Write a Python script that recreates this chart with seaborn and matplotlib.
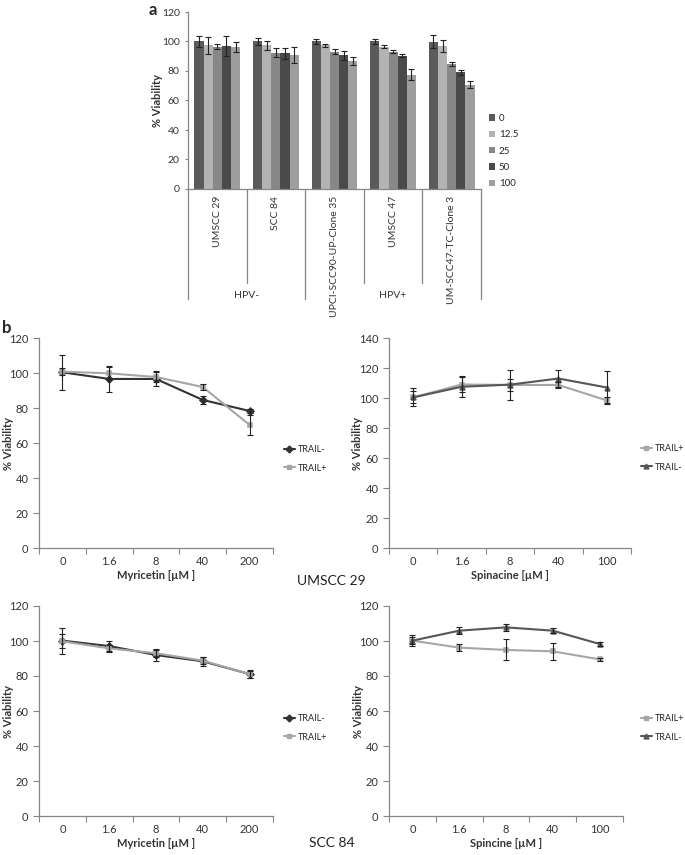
import numpy as np
import pandas as pd
import seaborn as sns
import matplotlib.pyplot as plt
from matplotlib.lines import Line2D
from matplotlib.patches import Patch
import matplotlib.transforms as mtransforms

sns.set_style("ticks")
plt.rcParams['font.family'] = ['Lato', 'DejaVu Sans']

# ---- panel a data ----
cell_lines = ["UMSCC 29", "SCC 84", "UPCI-SCC90-UP-Clone 35", "UMSCC 47", "UM-SCC47-TC-Clone 3"]
doses = ["0", "12.5", "25", "50", "100"]
v0 = [100, 100, 100, 100, 99.8]
v12 = [97.3, 97.3, 97.3, 96.6, 97.0]
v25 = [96.4, 92.5, 93.2, 93.2, 84.9]
v50 = [97.0, 91.9, 90.7, 90.5, 79.0]
v100 = [96.4, 91.0, 86.7, 77.6, 70.7]
e0 = [3.8, 2.7, 2.0, 2.0, 4.5]
e12 = [5.6, 2.8, 0.7, 0.8, 4.0]
e25 = [1.7, 3.0, 1.8, 1.2, 1.5]
e50 = [6.8, 3.5, 3.0, 0.8, 2.0]
e100 = [3.5, 5.5, 2.5, 4.0, 2.5]
bar_colors = ["#5b5b5b", "#b3b3b3", "#878787", "#4a4a4a", "#9e9e9e"]

# ---- panel b data ----
conc_myr = ["0", "1.6", "8", "40", "200"]
conc_spin = ["0", "1.6", "8", "40", "100"]

u29_myr_minus = [100.4, 96.6, 96.6, 84.6, 78.3]
u29_myr_minus_err = [10, 7.5, 4.3, 2.3, 1.0]
u29_myr_plus = [100.8, 99.8, 97.7, 92.0, 70.3]
u29_myr_plus_err = [2.0, 3.5, 3.0, 1.7, 5.7]

u29_spin_plus = [100.4, 109.0, 108.7, 108.7, 98.4]
u29_spin_plus_err = [4.0, 5.0, 4.0, 2.0, 2.0]
u29_spin_minus = [100.4, 107.5, 108.9, 113.0, 107.0]
u29_spin_minus_err = [6.0, 7.0, 10.0, 5.5, 11.0]

s84_myr_minus = [100.2, 97.1, 92.0, 88.4, 81.1]
s84_myr_minus_err = [4.0, 3.0, 3.5, 2.5, 2.5]
s84_myr_plus = [99.8, 95.8, 93.0, 88.8, 81.1]
s84_myr_plus_err = [7.5, 2.0, 2.0, 2.0, 2.0]

s84_spin_plus = [100.2, 96.2, 94.9, 94.1, 89.5]
s84_spin_plus_err = [3.0, 2.0, 6.0, 5.0, 1.0]
s84_spin_minus = [100.2, 105.9, 107.8, 105.9, 98.3]
s84_spin_minus_err = [2.0, 2.0, 2.0, 1.5, 1.0]

W, H = 685, 855
fig = plt.figure(figsize=(W / 100, H / 100), dpi=100)


def box(l, t, r, b):
    return [l / W, 1 - b / H, (r - l) / W, (b - t) / H]


AXC = "#868686"
TXT = "#333333"


def style_axes(ax):
    sns.despine(ax=ax)
    for s in ["left", "bottom"]:
        ax.spines[s].set_color(AXC)
        ax.spines[s].set_linewidth(0.9)
    ax.tick_params(colors=AXC, labelcolor=TXT, labelsize=8)


# ================= panel a =================
ax_a = fig.add_axes(box(188, 12, 481, 189))
bar_df = pd.DataFrame({
    "line": cell_lines * 5,
    "dose": sum([[d] * 5 for d in doses], []),
    "viability": v0 + v12 + v25 + v50 + v100,
})
sns.barplot(data=bar_df, x="line", y="viability", hue="dose", order=cell_lines,
            hue_order=doses, palette=bar_colors, width=0.78, errorbar=None,
            legend=False, ax=ax_a, linewidth=0)
for cont, err in zip(ax_a.containers, [e0, e12, e25, e50, e100]):
    xs = [p.get_x() + p.get_width() / 2 for p in cont]
    ys = [p.get_height() for p in cont]
    ax_a.errorbar(xs, ys, yerr=err, fmt="none", ecolor="#222222",
                  elinewidth=0.8, capsize=2, capthick=0.8)
ax_a.set_ylim(0, 120)
ax_a.set_yticks(range(0, 121, 20))
ax_a.set_xlim(-0.5, 4.5)
style_axes(ax_a)
ax_a.tick_params(axis="y", length=2, labelsize=7.5, pad=4)
ax_a.tick_params(axis="x", length=0, labelsize=7.5, pad=5)
ax_a.set_xticks(range(5), labels=cell_lines, rotation=90, va="top")
ax_a.set_xlabel("")
ax_a.set_ylabel("% Viability", fontweight="bold", fontsize=8, color=TXT)
ax_a.yaxis.set_label_coords(-0.085, 0.5)

trans = mtransforms.blended_transform_factory(ax_a.transData, ax_a.transAxes)
for i in range(6):
    low = -0.621 if i in (0, 2, 5) else -0.531
    ax_a.plot([i - 0.5, i - 0.5], [0, low], color=AXC, lw=0.9,
              transform=trans, clip_on=False)
ax_a.text(0.5, -0.60, "HPV-", transform=trans, ha="center", va="center",
          fontsize=7.5, color=TXT)
ax_a.text(3.0, -0.60, "HPV+", transform=trans, ha="center", va="center",
          fontsize=7.5, color=TXT)

leg_handles = [Patch(facecolor=c, edgecolor="none") for c in bar_colors]
ax_a.legend(leg_handles, doses, loc="upper left",
            bbox_to_anchor=(489 / W, 1 - 114 / H), bbox_transform=fig.transFigure,
            frameon=False, fontsize=7, handlelength=0.6, handleheight=0.6,
            handletextpad=0.4, labelspacing=0.75, borderaxespad=0, borderpad=0)

fig.text(153 / W, 1 - 10 / H, "a", fontweight="bold", fontsize=12,
         ha="center", va="center")
fig.text(7 / W, 1 - 328 / H, "b", fontweight="bold", fontsize=12,
         ha="center", va="center")


# ================= panel b =================
def line_panel(rect, conc, series, ymax, xlabel, leg_xy):
    ax = fig.add_axes(box(*rect))
    labels = [s[0] for s in series]
    df = pd.DataFrame({
        "conc": conc * len(series),
        "viab": sum([s[1] for s in series], []),
        "trail": sum([[s[0]] * len(conc) for s in series], []),
    })
    sns.pointplot(data=df, x="conc", y="viab", hue="trail", order=conc,
                  hue_order=labels, palette=[s[3] for s in series],
                  markers=[s[4] for s in series], linestyles="-",
                  errorbar=None, markersize=3.5, linewidth=1.5, dodge=False,
                  legend=False, ax=ax)
    for line, s in zip(ax.lines[:len(series)], series):
        ax.errorbar(line.get_xdata(), line.get_ydata(), yerr=s[2], fmt="none",
                    ecolor="#222222", elinewidth=0.8, capsize=2, capthick=0.8)
    ax.set_ylim(0, ymax)
    ax.set_yticks(range(0, ymax + 1, 20))
    ax.set_xlim(-0.5, len(conc) - 0.5)
    ax.set_xticks(np.arange(-0.5, len(conc), 1), labels=[])
    ax.set_xticks(range(len(conc)), labels=conc, minor=True)
    style_axes(ax)
    ax.tick_params(which="major", length=4, direction="out")
    ax.tick_params(axis="x", which="minor", length=0, labelsize=8, labelcolor=TXT, pad=6)
    ax.set_ylabel("% Viability", fontweight="bold", fontsize=8, color=TXT)
    ax.yaxis.set_label_coords(-0.108, 0.5)
    ax.set_xlabel(xlabel, fontweight="bold", fontsize=8, color=TXT)
    ax.xaxis.set_label_coords(0.5, -0.105)
    handles = [Line2D([], [], color=s[3], marker=s[4], markersize=3.5, lw=1.5)
               for s in series]
    ax.legend(handles, labels, loc="center left",
              bbox_to_anchor=(leg_xy[0] / W, 1 - leg_xy[1] / H),
              bbox_transform=fig.transFigure, frameon=False, fontsize=6.5,
              handlelength=1.2, handletextpad=0.3, labelspacing=1.0,
              borderaxespad=0, borderpad=0)
    return ax


DARK = "#333333"
DARK2 = "#565656"
LIGHT = "#a6a6a6"

line_panel((39, 338, 273, 548), conc_myr,
           [("TRAIL-", u29_myr_minus, u29_myr_minus_err, DARK, "D"),
            ("TRAIL+", u29_myr_plus, u29_myr_plus_err, LIGHT, "s")],
           120, "Myricetin [µM ]", (284, 459))
line_panel((389, 338, 631, 548), conc_spin,
           [("TRAIL+", u29_spin_plus, u29_spin_plus_err, LIGHT, "s"),
            ("TRAIL-", u29_spin_minus, u29_spin_minus_err, DARK2, "^")],
           140, "Spinacine [µM ]", (641, 458))
line_panel((39, 606, 273, 816), conc_myr,
           [("TRAIL-", s84_myr_minus, s84_myr_minus_err, DARK, "D"),
            ("TRAIL+", s84_myr_plus, s84_myr_plus_err, LIGHT, "s")],
           120, "Myricetin [µM ]", (284, 728))
line_panel((389, 606, 623, 816), conc_spin,
           [("TRAIL+", s84_spin_plus, s84_spin_plus_err, LIGHT, "s"),
            ("TRAIL-", s84_spin_minus, s84_spin_minus_err, DARK2, "^")],
           120, "Spincine [µM ]", (641, 728))

fig.text(331 / W, 1 - 581 / H, "UMSCC 29", ha="center", va="center",
         fontsize=10, color="#222222")
fig.text(332 / W, 1 - 843 / H, "SCC 84", ha="center", va="center",
         fontsize=10, color="#222222")

fig.savefig("out.png", dpi=100)
